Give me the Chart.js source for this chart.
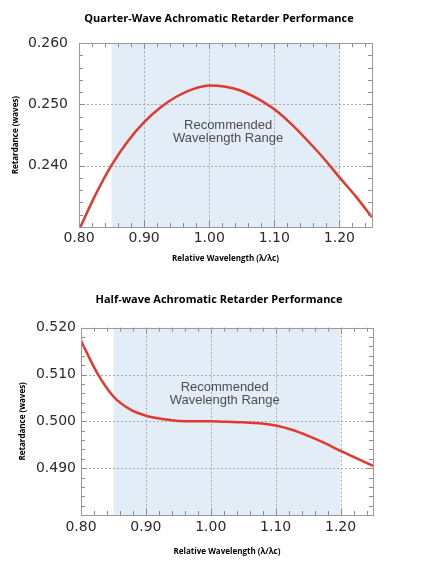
<!DOCTYPE html>
<html>
<head>
<meta charset="utf-8">
<script src="https://cdn.jsdelivr.net/npm/chart.js@4.4.1/dist/chart.umd.min.js"></script>
<style>
  html, body { margin: 0; background: #fff; overflow: hidden; }
  canvas { display: block; }
</style>
</head>
<body>
<canvas id="quarterChart" width="438" height="280"></canvas>
<canvas id="halfChart" width="438" height="281"></canvas>
<script>
// --- data ---
const wavelength = [0.80, 0.825, 0.85, 0.875, 0.90, 0.925, 0.95, 0.975, 1.00, 1.025,
                    1.05, 1.075, 1.10, 1.125, 1.15, 1.175, 1.20, 1.225, 1.25];
const quarterRetardance = [0.2295, 0.2352, 0.2401, 0.2440, 0.2471, 0.2495, 0.2513, 0.2525, 0.2531, 0.2529,
                           0.2522, 0.2509, 0.2492, 0.2469, 0.2442, 0.2413, 0.2381, 0.2350, 0.2316];
const halfRetardance = [0.5172, 0.5103, 0.5053, 0.5026, 0.5012, 0.5005, 0.5001, 0.5000, 0.5000, 0.4999,
                        0.4998, 0.4996, 0.4991, 0.4982, 0.4969, 0.4954, 0.4937, 0.4921, 0.4905];
const xTicks = [0.80, 0.90, 1.00, 1.10, 1.20];
const quarterYTicks = [0.240, 0.250, 0.260];
const halfYTicks = [0.490, 0.500, 0.510, 0.520];
const recommendedRange = [0.85, 1.20];
const noteText = ['Recommended', 'Wavelength Range'];

// shaded band, dotted grid, box, inward ticks, note
const decorPlugin = {
  id: 'decor',
  beforeDatasetsDraw(chart, args, o) {
    const { ctx, chartArea: a, scales: { x, y } } = chart;
    ctx.save();
    // recommended band
    ctx.fillStyle = '#e3edf8';
    const b0 = x.getPixelForValue(recommendedRange[0]);
    const b1 = x.getPixelForValue(recommendedRange[1]);
    ctx.fillRect(b0, a.top, b1 - b0, a.bottom - a.top);
    // dotted grid
    ctx.strokeStyle = '#a8a8a8';
    ctx.lineWidth = 1;
    ctx.setLineDash([2, 2]);
    xTicks.forEach(v => {
      const px = Math.round(x.getPixelForValue(v)) + 0.5;
      if (px <= a.left + 1) return;
      ctx.beginPath(); ctx.moveTo(px, a.top); ctx.lineTo(px, a.bottom); ctx.stroke();
    });
    o.yTicks.forEach(v => {
      const py = Math.round(y.getPixelForValue(v)) + 0.5;
      if (py <= a.top + 1) return;
      ctx.beginPath(); ctx.moveTo(a.left, py); ctx.lineTo(a.right, py); ctx.stroke();
    });
    ctx.setLineDash([]);
    // note text
    ctx.fillStyle = '#4d4d4d';
    ctx.font = '13px "Liberation Sans", Arial, sans-serif';
    ctx.textAlign = 'center';
    ctx.textBaseline = 'middle';
    const nx = x.getPixelForValue(o.noteAt[0]);
    const ny = y.getPixelForValue(o.noteAt[1]);
    ctx.fillText(noteText[0], nx, ny);
    ctx.fillText(noteText[1], nx, ny + 13);
    ctx.restore();
  },
  afterDatasetsDraw(chart, args, o) {
    const { ctx, chartArea: a, scales: { x, y } } = chart;
    ctx.save();
    ctx.strokeStyle = '#8c8c8c';
    ctx.lineWidth = 1;
    // minor + major ticks, all four sides, pointing in
    for (let i = 0; i <= 22; i++) {
      const v = 0.80 + i * 0.02;
      const px = Math.round(x.getPixelForValue(v)) + 0.5;
      const len = (i % 5 === 0) ? 6 : 4;
      ctx.beginPath();
      ctx.moveTo(px, a.bottom); ctx.lineTo(px, a.bottom - len);
      ctx.moveTo(px, a.top); ctx.lineTo(px, a.top + len);
      ctx.stroke();
    }
    for (let i = 0; i <= 30; i++) {
      const v = y.min + i * 0.002;
      if (v > y.max + 1e-9) break;
      const py = Math.round(y.getPixelForValue(v)) + 0.5;
      const len = (i % 5 === 0) ? 6 : 4;
      ctx.beginPath();
      ctx.moveTo(a.left, py); ctx.lineTo(a.left + len, py);
      ctx.moveTo(a.right, py); ctx.lineTo(a.right - len, py);
      ctx.stroke();
    }
    // box
    ctx.strokeStyle = '#9a9a9a';
    ctx.strokeRect(Math.round(a.left) + 0.5, Math.round(a.top) + 0.5,
                   Math.round(a.right - a.left), Math.round(a.bottom - a.top));
    ctx.restore();
  }
};

function makeChart(id, cfg) {
  return new Chart(document.getElementById(id), {
    type: 'line',
    data: {
      datasets: [{
        data: wavelength.map((w, i) => ({ x: w, y: cfg.values[i] })),
        borderColor: '#e2392f',
        borderWidth: 2.5,
        pointRadius: 0,
        fill: false,
        cubicInterpolationMode: 'monotone'
      }]
    },
    options: {
      responsive: false,
      animation: false,
      events: [],
      layout: { padding: 0 },
      plugins: {
        legend: { display: false },
        tooltip: { enabled: false },
        title: {
          display: true,
          text: cfg.title,
          color: '#000',
          font: { family: '"Open Sans", sans-serif', size: 11, weight: 'bold' },
          padding: { top: cfg.titleTop, bottom: cfg.titleBottom }
        },
        decor: { yTicks: cfg.yTicks, noteAt: cfg.noteAt }
      },
      scales: {
        x: {
          type: 'linear',
          min: 0.80,
          max: 1.25,
          afterBuildTicks: s => { s.ticks = xTicks.map(v => ({ value: v })); },
          afterFit: s => { s.height = cfg.xHeight; },
          grid: { display: false, drawTicks: false },
          border: { display: false },
          ticks: {
            autoSkip: false,
            maxRotation: 0,
            padding: cfg.xLabelPad,
            color: '#2b2b2b',
            font: { family: '"DejaVu Sans", sans-serif', size: 14 },
            callback: v => v.toFixed(2)
          },
          title: {
            display: true,
            text: 'Relative Wavelength (λ/λc)',
            color: '#000',
            font: { family: '"Open Sans", sans-serif', size: 8, weight: 'bold' },
            padding: { top: 0, bottom: cfg.xTitleBottom }
          }
        },
        y: {
          min: cfg.yMin,
          max: cfg.yMax,
          afterBuildTicks: s => { s.ticks = cfg.yTicks.map(v => ({ value: v })); },
          afterFit: s => { s.width = cfg.yWidth; },
          grid: { display: false, drawTicks: false },
          border: { display: false },
          ticks: {
            padding: cfg.yLabelPad,
            color: '#2b2b2b',
            font: { family: '"DejaVu Sans", sans-serif', size: 14 },
            callback: v => v.toFixed(3)
          },
          title: {
            display: true,
            text: 'Retardance (waves)',
            color: '#000',
            font: { family: '"Open Sans", sans-serif', size: 8, weight: 'bold' },
            padding: { top: cfg.yTitlePad, bottom: 0 }
          }
        },
        // empty right axis, only reserves the white margin
        yRight: {
          position: 'right',
          min: cfg.yMin,
          max: cfg.yMax,
          afterFit: s => { s.width = cfg.rightWidth; },
          grid: { display: false, drawTicks: false },
          border: { display: false },
          ticks: { display: false }
        }
      }
    },
    plugins: [decorPlugin]
  });
}

makeChart('quarterChart', {
  title: 'Quarter-Wave Achromatic Retarder Performance',
  values: quarterRetardance,
  yMin: 0.230, yMax: 0.260, yTicks: quarterYTicks,
  noteAt: [1.029, 0.2465],
  rightWidth: 66, titleTop: 12, titleBottom: 18,
  xHeight: 53, xLabelPad: 3, xTitleBottom: 16,
  yWidth: 79, yLabelPad: 11, yTitlePad: 11
});

makeChart('halfChart', {
  title: 'Half-wave Achromatic Retarder Performance',
  values: halfRetardance,
  yMin: 0.480, yMax: 0.520, yTicks: halfYTicks,
  noteAt: [1.0215, 0.5072],
  rightWidth: 65, titleTop: 13.5, titleBottom: 21,
  xHeight: 46, xLabelPad: 4, xTitleBottom: 4,
  yWidth: 81, yLabelPad: 5, yTitlePad: 18
});
</script>
</body>
</html>
